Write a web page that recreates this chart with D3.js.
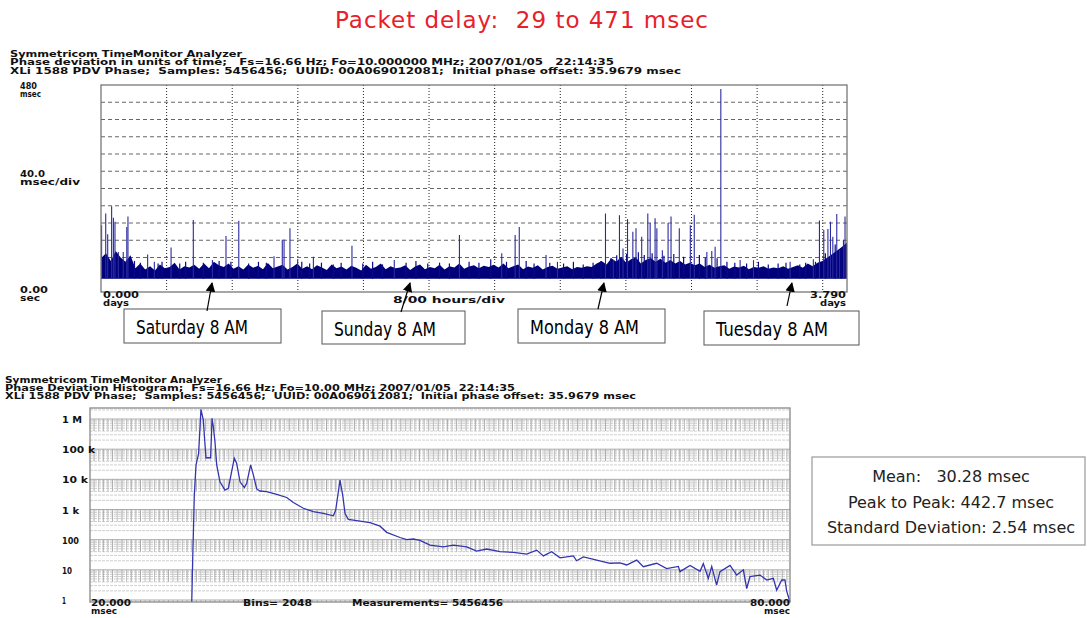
<html>
<head>
<script src="https://d3js.org/d3.v7.min.js"></script>
<style>
    body { margin: 0; background: white; }
    text { font-family: "DejaVu Sans", sans-serif; white-space: pre; }
</style>
</head>
<body>
<script>
    // ---- data ----
    let titleText = "Packet delay:  29 to 471 msec";
    let topHeader = ["Symmetricom TimeMonitor Analyzer",
        "Phase deviation in units of time;   Fs=16.66 Hz; Fo=10.000000 MHz; 2007/01/05   22:14:35",
        "XLi 1588 PDV Phase;  Samples: 5456456;  UUID: 00A069012081;  Initial phase offset: 35.9679 msec"];
    let bottomHeader = ["Symmetricom TimeMonitor Analyzer",
        "Phase Deviation Histogram;  Fs=16.66 Hz; Fo=10.00 MHz; 2007/01/05  22:14:35",
        "XLi 1588 PDV Phase;  Samples: 5456456;  UUID: 00A069012081;  Initial phase offset: 35.9679 msec"];

    // phase series: top edge of the dense sample band (msec, evenly over 0..3.79 days) plus spikes
    let bandBottom = 31;
    let bandTop = [78, 90, 72, 95, 80, 70, 85,
        55, 66, 52, 60, 50, 64, 55, 58, 68, 52, 60, 57, 63, 54, 66, 55,
        70, 62, 58, 66, 54, 60, 52, 64, 56, 61, 53, 67, 55, 59, 63, 52, 58, 66, 54,
        60, 53, 62, 57, 51, 64, 55, 59, 52, 61, 56, 50, 63, 54, 58, 66, 53, 60, 55,
        57, 62, 51, 59, 64, 53, 58, 55, 63, 52, 60, 57, 66, 54, 59, 62, 55, 61, 58,
        63, 57, 66, 55, 60, 64, 53, 59, 56, 62, 52, 58, 61, 54, 57, 60, 53, 58, 56,
        60, 58, 66, 72, 64, 78, 70, 82, 68, 76, 80, 66, 74, 79, 70, 77, 68, 74, 66,
        72, 64, 68, 62, 66, 58, 63, 56, 60, 62, 54, 59, 57, 61, 53, 58, 56, 60, 54,
        57, 55, 60, 54, 58, 62, 56, 66, 60, 68, 72, 80, 88, 96, 105, 115];
    let spikeDays = [0.003, 0.024, 0.034, 0.054, 0.063, 0.071, 0.088, 0.113, 0.131, 0.137, 0.237, 0.271,
        0.356, 0.469, 0.566, 0.635, 0.700, 0.879, 0.921, 0.930, 0.960, 0.999, 1.079, 1.275, 1.490,
        1.821, 2.036, 2.104, 2.125, 2.261, 2.319, 2.563, 2.603, 2.634, 2.652, 2.675, 2.702, 2.718,
        2.747, 2.778, 2.790, 2.815, 2.824, 2.852, 2.881, 2.896, 2.938, 2.994, 3.014, 3.078, 3.103,
        3.120, 3.149, 3.247, 3.315, 3.501, 3.619, 3.650, 3.672, 3.693, 3.706, 3.718, 3.738, 3.752,
        3.772, 3.780];
    let spikeMsec = [155, 182, 134, 199, 172, 163, 93, 93, 151, 175, 87, 70,
        103, 167, 74, 130, 165, 83, 121, 122, 148, 74, 82, 107, 74,
        132, 90, 132, 151, 86, 70, 182, 74, 178, 101, 169, 140, 148,
        128, 182, 160, 171, 148, 97, 160, 175, 148, 155, 179, 93, 95,
        105, 471, 74, 74, 70, 76, 166, 144, 146, 163, 128, 181, 97,
        121, 175];
    let smallDays = [0.17, 0.2, 0.29, 0.31, 0.4, 0.43, 0.52, 0.6, 0.66, 0.75, 0.8, 0.84, 1.02, 1.06, 1.12,
        1.18, 1.22, 1.33, 1.38, 1.43, 1.55, 1.6, 1.66, 1.72, 1.77, 1.87, 1.92, 1.98, 2.06, 2.16, 2.2,
        2.28, 2.35, 2.4, 2.45, 2.5, 2.54, 2.59, 2.62, 2.67, 2.73, 2.76, 2.8, 2.86, 2.91, 2.96, 3.04,
        3.07, 3.13, 3.18, 3.22, 3.28, 3.34, 3.39, 3.44, 3.48, 3.55, 3.58, 3.63, 3.68, 3.73, 3.76];
    let smallMsec = [72, 68, 66, 70, 66, 70, 68, 72, 70, 66, 70, 68, 70, 66, 68,
        64, 68, 66, 70, 64, 68, 72, 66, 68, 66, 70, 68, 76, 70, 72, 66,
        68, 66, 70, 64, 68, 72, 78, 85, 88, 92, 86, 90, 84, 88, 82, 86,
        80, 78, 70, 68, 66, 70, 64, 66, 68, 64, 68, 70, 90, 110, 100];

    let dayLabels = ["Saturday 8 AM", "Sunday 8 AM", "Monday 8 AM", "Tuesday 8 AM"];
    let dayArrowAt = [0.564, 1.57, 2.555, 3.51];

    // histogram (msec, count)
    let histMsec = [28.72, 28.80, 28.94, 29.09, 29.31, 29.51, 29.71, 29.86, 29.94, 30.34, 30.46, 30.57,
        30.71, 30.86, 31.14, 31.57, 31.86, 32.14, 32.37, 32.57, 32.86, 33.23, 33.43, 33.77, 34.00,
        34.29, 34.57, 35.14, 36.00, 36.86, 37.43, 38.29, 39.14, 40.00, 40.86, 41.06, 41.43, 41.66,
        41.86, 42.14, 43.14, 44.00, 44.86, 45.43, 46.57, 47.14, 47.71, 48.29, 49.14, 50.29, 51.14,
        52.29, 53.14, 54.00, 55.14, 56.29, 57.43, 58.29, 58.86, 59.57, 60.29, 61.43, 61.71, 62.29,
        63.43, 64.57, 65.43, 66.00, 66.86, 67.43, 68.57, 69.43, 70.43, 70.57, 71.43, 72.29, 72.57,
        73.00, 73.29, 73.71, 74.00, 74.86, 75.43, 76.00, 76.29, 76.57, 77.43, 78.00, 78.57, 78.86,
        79.29, 79.57, 79.71, 80.00];
    let histCount = [0.85, 20, 3000, 30000, 73000, 2100000, 930000, 137000, 52000, 52000, 1050000, 560000,
        180000, 30000, 8300, 4400, 5000, 18000, 50000, 34000, 8300, 5300, 7400, 30000, 14000,
        4800, 4100, 3900, 3200, 2500, 1700, 1100, 850, 740, 620, 960, 9500, 3000,
        740, 470, 415, 365, 280, 175, 118, 100, 105, 95, 66, 58, 66,
        58, 42, 49, 40, 38, 33, 45, 29, 40, 25, 29, 20, 27,
        21, 16.5, 17, 14.5, 21, 12.7, 16.5, 11, 13, 8.7, 14, 9, 16,
        5.2, 13, 3.1, 8.7, 14, 6.7, 10, 2.4, 6, 6.7, 4.6, 5.2, 2.1,
        4.6, 4.6, 2, 0.85];
    let histTicks = [1, 10, 100, 1000, 10000, 100000, 1000000];
    let histTickLabels = ["1", "10", "100", "1 k", "10 k", "100 k", "1 M"];

    let statLines = ["Mean:   30.28 msec", "Peak to Peak: 442.7 msec", "Standard Deviation: 2.54 msec"];

    // ---- drawing ----
    let svg = d3.select("body").append("svg")
        .attr("width", 1087)
        .attr("height", 618)
        .style("background", "white");

    function smallText(x, y, t, len, anchor, size) {
        let el = svg.append("text")
            .attr("x", x).attr("y", y)
            .attr("font-size", size || 8.5)
            .attr("font-weight", "bold")
            .attr("fill", "#111")
            .attr("text-anchor", anchor || "start")
            .text(t);
        if (len) el.attr("textLength", len).attr("lengthAdjust", "spacingAndGlyphs");
        return el;
    }

    svg.append("text")
        .attr("x", 335).attr("y", 28)
        .attr("font-family", "Liberation Sans")
        .attr("font-size", 23)
        .attr("fill", "#e8202a")
        .attr("textLength", 373).attr("lengthAdjust", "spacing")
        .text(titleText);

    let topLens = [232, 604, 671];
    topHeader.forEach((t, i) => smallText(10, 57 + i * 8.3, t, topLens[i], "start", 9));
    let botLens = [217, 510, 631];
    bottomHeader.forEach((t, i) => smallText(5, 383 + i * 8, t, botLens[i]));

    // top chart
    let x = d3.scaleLinear().domain([0, 3.79]).range([101, 847]);
    let y = d3.scaleLinear().domain([0, 480]).range([292, 85]);

    d3.range(40, 480, 40).forEach(v =>
        svg.append("line")
            .attr("x1", x(0)).attr("x2", x(3.79))
            .attr("y1", y(v)).attr("y2", y(v))
            .attr("stroke", "#555").attr("stroke-width", 0.9)
            .attr("stroke-dasharray", "4,3")
    );
    d3.range(1, 12).forEach(k =>
        svg.append("line")
            .attr("x1", x(k / 3)).attr("x2", x(k / 3))
            .attr("y1", y(480)).attr("y2", y(0))
            .attr("stroke", "#222").attr("stroke-width", 1)
            .attr("stroke-dasharray", "1,2")
    );

    let band = bandTop.map((v, i) => ({day: 3.79 * i / (bandTop.length - 1), v: v}));
    svg.append("path")
        .datum(band)
        .attr("fill", "#00007a")
        .attr("d", d3.area()
            .x(d => x(d.day))
            .y0(y(bandBottom))
            .y1(d => y(d.v)));

    smallDays.forEach((d, i) =>
        svg.append("line")
            .attr("x1", x(d)).attr("x2", x(d))
            .attr("y1", y(bandBottom)).attr("y2", y(smallMsec[i]))
            .attr("stroke", "#0a0a88").attr("stroke-width", 1.2)
    );
    spikeDays.forEach((d, i) =>
        svg.append("line")
            .attr("x1", x(d)).attr("x2", x(d))
            .attr("y1", y(bandBottom)).attr("y2", y(spikeMsec[i]))
            .attr("stroke", "#2a2aa0").attr("stroke-width", 1.1)
    );

    svg.append("rect")
        .attr("x", x(0)).attr("y", y(480))
        .attr("width", x(3.79) - x(0)).attr("height", y(0) - y(480))
        .attr("fill", "none").attr("stroke", "#777").attr("stroke-width", 1.3);

    smallText(20, 89, "480", 17, "start", 9.5);
    smallText(20, 97, "msec", 21, "start", 9);
    smallText(20, 177, "40.0", 25, "start", 9.5);
    smallText(20, 185, "msec/div", 60, "start", 9);
    smallText(20, 293, "0.00", 28, "start", 9.5);
    smallText(20, 301, "sec", 20, "start", 9);
    smallText(103, 298, "0.000", 36, "start", 9.5);
    smallText(103, 306, "days", 26, "start", 9);
    smallText(393, 303, "8/00 hours/div", 112, "start", 9.5);
    smallText(846, 298, "3.790", 36, "end", 9.5);
    smallText(846, 306, "days", 26, "end", 9);

    // day annotations
    let boxes = [[124, 309, 157, 34], [322, 311, 143, 33], [518, 309, 147, 34], [704, 311, 155, 34]];
    let textLens = [112, 102, 109, 112];
    let tails = [[207, 311], [401, 312], [598, 309], [787, 306]];
    svg.append("defs").append("marker")
        .attr("id", "arr").attr("viewBox", "0 0 10 10")
        .attr("refX", 9).attr("refY", 5)
        .attr("markerWidth", 8).attr("markerHeight", 8)
        .attr("orient", "auto")
        .append("path").attr("d", "M0,0L10,5L0,10z").attr("fill", "#000");
    dayLabels.forEach((t, i) => {
        let b = boxes[i];
        svg.append("rect")
            .attr("x", b[0]).attr("y", b[1]).attr("width", b[2]).attr("height", b[3])
            .attr("fill", "white").attr("stroke", "#555").attr("stroke-width", 1);
        svg.append("text")
            .attr("x", b[0] + 12).attr("y", b[1] + 25)
            .attr("font-family", "Liberation Serif")
            .attr("font-size", 19)
            .attr("fill", "#000")
            .attr("textLength", textLens[i]).attr("lengthAdjust", "spacingAndGlyphs")
            .text(t);
        svg.append("line")
            .attr("x1", tails[i][0]).attr("y1", tails[i][1])
            .attr("x2", x(dayArrowAt[i])).attr("y2", 283)
            .attr("stroke", "#000").attr("stroke-width", 1.2)
            .attr("marker-end", "url(#arr)");
    });

    // histogram chart
    let hx = d3.scaleLinear().domain([20, 80]).range([90, 790]);
    let hy = d3.scaleLog().domain([1, 1e6]).range([600, 419]);
    let hTop = 408, hBottom = 602;

    // minor log grid
    histTicks.forEach(dec => {
        d3.range(2, 10).forEach(m => {
            let yy = hy(dec * m);
            if (yy < hTop) return;
            svg.append("line")
                .attr("x1", hx(20)).attr("x2", hx(80))
                .attr("y1", yy).attr("y2", yy)
                .attr("stroke", "#c4c4c4").attr("stroke-width", 0.8)
                .attr("stroke-dasharray", "3,1");
        });
    });
    // vertical grid segments hanging from each decade line
    histTicks.concat([1e7]).forEach(dec => {
        let y1 = Math.max(hy(dec), hTop), y2 = Math.min(hy(dec * 0.4), hBottom);
        if (y2 <= hTop) return;
        d3.range(hx(20) + 4, hx(80) - 2, 4.65).forEach((xx, j) =>
            svg.append("line")
                .attr("x1", xx).attr("x2", xx)
                .attr("y1", y1).attr("y2", y2)
                .attr("stroke", j % 2 ? "#b8b8b8" : "#a4a4a4").attr("stroke-width", 0.9)
        );
    });
    histTicks.forEach(dec =>
        svg.append("line")
            .attr("x1", hx(20)).attr("x2", hx(80))
            .attr("y1", hy(dec)).attr("y2", hy(dec))
            .attr("stroke", "#a0a0a0").attr("stroke-width", 0.9)
    );

    let hist = histMsec.map((m, i) => ({m: m, c: histCount[i]}));
    svg.append("path")
        .datum(hist)
        .attr("fill", "none")
        .attr("stroke", "#3434b0")
        .attr("stroke-width", 1.3)
        .attr("d", d3.line()
            .x(d => hx(d.m))
            .y(d => Math.min(hy(d.c), hBottom)));

    svg.append("rect")
        .attr("x", hx(20)).attr("y", hTop)
        .attr("width", hx(80) - hx(20)).attr("height", hBottom - hTop)
        .attr("fill", "none").attr("stroke", "#888").attr("stroke-width", 1.3);

    let labLens = [4, 10, 17, 17, 26, 33, 20];
    histTicks.forEach((dec, i) =>
        smallText(62, hy(dec) + 4, histTickLabels[i], labLens[i])
    );
    smallText(91, 606, "20.000", 40, "start", 9);
    smallText(91, 614, "msec", 26);
    smallText(243, 606, "Bins= 2048", 69);
    smallText(352, 606, "Measurements= 5456456", 151);
    smallText(790, 606, "80.000", 40, "end", 9);
    smallText(790, 614, "msec", 26, "end");

    // stats box
    svg.append("rect")
        .attr("x", 812).attr("y", 457).attr("width", 273).attr("height", 88)
        .attr("fill", "white").attr("stroke", "#999").attr("stroke-width", 1.2);
    statLines.forEach((t, i) =>
        svg.append("text")
            .attr("x", 951).attr("y", 482 + i * 25.5)
            .attr("text-anchor", "middle")
            .attr("font-family", "Liberation Sans")
            .attr("font-size", 16)
            .attr("fill", "#222")
            .text(t)
    );
</script>
</body>
</html>
